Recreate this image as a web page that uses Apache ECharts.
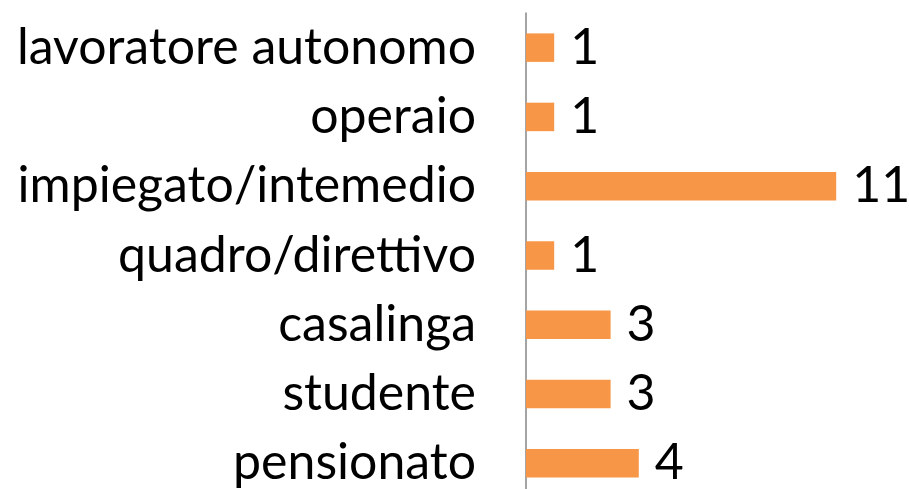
<!DOCTYPE html>
<html>
<head>
<meta charset="utf-8">
<script src="https://cdn.jsdelivr.net/npm/echarts@6/dist/echarts.min.js"></script>
<style>
html,body{margin:0;padding:0;background:#fff;overflow:hidden;width:909px;height:489px;}
#c{width:909px;height:498px;}
</style>
</head>
<body>
<div id="c"></div>
<script>
var categories = ["lavoratore autonomo", "operaio", "impiegato/intemedio", "quadro/direttivo", "casalinga", "studente", "pensionato"];
var values = [1, 1, 11, 1, 3, 3, 4];

var FONT = "Lato";
var chart = echarts.init(document.getElementById('c'), null, {renderer: 'canvas'});
chart.setOption({
  animation: false,
  backgroundColor: '#ffffff',
  grid: {left: 526, top: 13, right: 16.4, bottom: 0, containLabel: false},
  xAxis: {
    type: 'value', min: 0, max: 13, show: false
  },
  yAxis: {
    type: 'category',
    inverse: true,
    data: categories,
    axisTick: {show: false},
    axisLine: {show: true, lineStyle: {color: '#868686', width: 1.5}},
    axisLabel: {color: '#000000', fontSize: 50, fontFamily: FONT, margin: 50}
  },
  series: [{
    type: 'bar',
    data: values,
    barWidth: 28.5,
    itemStyle: {color: '#F79646'},
    label: {show: true, position: 'right', distance: 16, color: '#000000', fontSize: 50, fontFamily: FONT}
  }]
});
</script>
</body>
</html>
